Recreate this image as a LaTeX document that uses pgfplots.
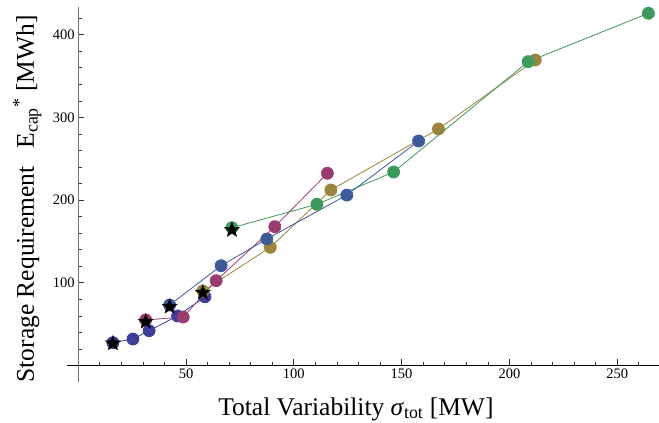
\documentclass[border=0pt]{standalone}
\usepackage{fontspec}
\setmainfont{Liberation Serif}
\usepackage{pgfplots}
\pgfplotsset{compat=1.18}

\definecolor{c1}{rgb}{0.247,0.24,0.6}
\definecolor{c2}{rgb}{0.6,0.24,0.443}
\definecolor{c3}{rgb}{0.6,0.52,0.24}
\definecolor{c4}{rgb}{0.24,0.6,0.36}
\definecolor{c5}{rgb}{0.24,0.353,0.6}

\pgfdeclareplotmark{fstar}{%
  \pgfpathmoveto{\pgfpointpolar{90}{\pgfplotmarksize}}%
  \pgfpathlineto{\pgfpointpolar{126}{0.42\pgfplotmarksize}}%
  \pgfpathlineto{\pgfpointpolar{162}{\pgfplotmarksize}}%
  \pgfpathlineto{\pgfpointpolar{198}{0.42\pgfplotmarksize}}%
  \pgfpathlineto{\pgfpointpolar{234}{\pgfplotmarksize}}%
  \pgfpathlineto{\pgfpointpolar{270}{0.42\pgfplotmarksize}}%
  \pgfpathlineto{\pgfpointpolar{306}{\pgfplotmarksize}}%
  \pgfpathlineto{\pgfpointpolar{342}{0.42\pgfplotmarksize}}%
  \pgfpathlineto{\pgfpointpolar{18}{\pgfplotmarksize}}%
  \pgfpathlineto{\pgfpointpolar{54}{0.42\pgfplotmarksize}}%
  \pgfpathclose\pgfusepathqfillstroke}

\begin{document}
\begin{tikzpicture}
\begin{axis}[
  scale only axis, width=592pt, height=374.7pt,
  xmin=-5.2, xmax=269.4, ymin=-19.7, ymax=433.5,
  axis lines=middle,
  axis line style={-},
  x axis line style={black, line width=0.8pt},
  y axis line style={black!55, line width=1pt},
  xtick={50,100,150,200,250},
  minor xtick={10,20,...,260},
  ytick={100,200,300,400},
  minor ytick={20,40,...,420},
  tick align=inside,
  major tick length=6pt, minor tick length=3.5pt,
  tick style={black!80, line width=0.6pt},
  ticklabel style={font=\fontsize{14.5}{16}\selectfont},
  /pgf/number format/assume math mode=true,
  clip=false,
]
\addplot[c1, line width=0.8pt, mark=*, mark size=6pt, mark options={draw=none, fill=c1}]
  coordinates {(16.1,27.5) (25.4,31.9) (32.9,42.0) (46.1,59.8) (58.8,83.0)};
\addplot[c2, line width=0.8pt, mark=*, mark size=6pt, mark options={draw=none, fill=c2}]
  coordinates {(31.3,55.0) (48.7,58.5) (64.0,102.5) (91.2,167.8) (115.6,232.4)};
\addplot[c3, line width=0.8pt, mark=*, mark size=6pt, mark options={draw=none, fill=c3}]
  coordinates {(57.8,90.0) (89.1,142.8) (117.2,212.2) (167.1,286.0) (212.0,369.4)};
\addplot[c4, line width=0.8pt, mark=*, mark size=6pt, mark options={draw=none, fill=c4}]
  coordinates {(71.3,166.5) (110.7,194.9) (146.3,233.9) (208.7,367.4) (264.5,425.9)};
\addplot[c5, line width=0.8pt, mark=*, mark size=6pt, mark options={draw=none, fill=c5}]
  coordinates {(42.4,73.0) (66.3,120.6) (87.5,152.9) (124.6,206.0) (157.9,271.4)};
\addplot[only marks, mark=fstar, mark size=8pt, mark options={fill=black, draw=black, line width=0.3pt}]
  coordinates {(16.1,26.7) (31.3,52.9) (42.4,71.0) (57.8,88.0) (71.3,163.8)};

\node[anchor=base, font=\fontsize{25.5}{30}\selectfont] at (rel axis cs:0.488,-0.0889)
  {Total Variability \textit{σ}\textsubscript{tot} [MW]};
\node[rotate=90, anchor=base, font=\fontsize{25.5}{30}\selectfont] at (rel axis cs:-0.056,0.488)
  {Storage Requirement\hspace{0.45em} E\textsubscript{cap}\textsuperscript{*} [MWh]};

\coordinate (bl) at (rel axis cs:0,0);
\coordinate (tr) at (rel axis cs:1,1);
\end{axis}
\pgfresetboundingbox
\path ([shift={(-67pt,-41.3pt)}]bl) rectangle ([shift={(0pt,7pt)}]tr);
\end{tikzpicture}
\end{document}
